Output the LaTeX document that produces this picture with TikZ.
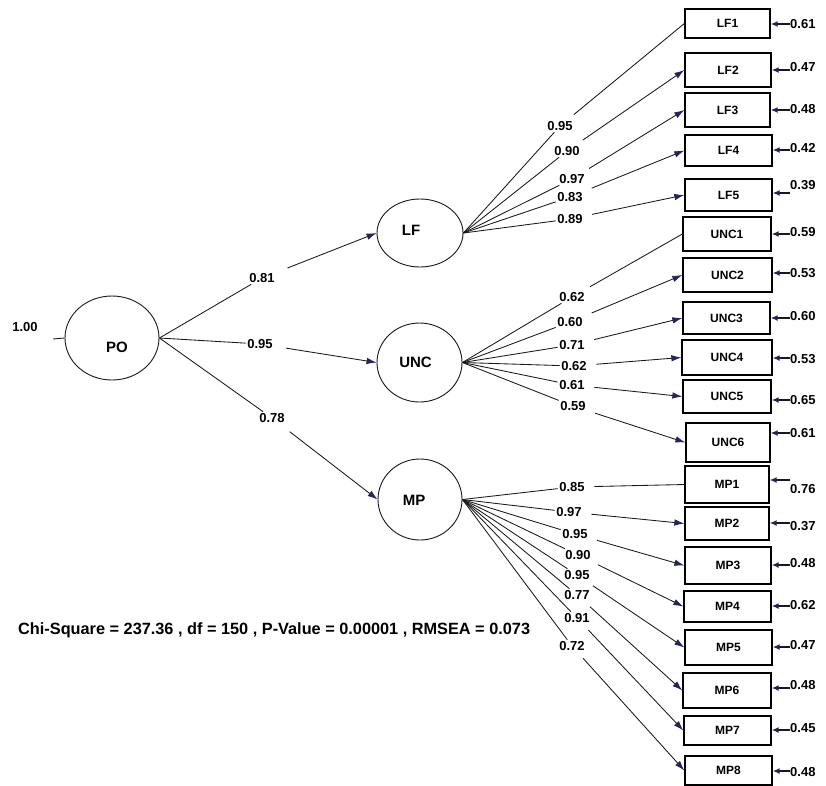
\documentclass[tikz,border=0pt]{standalone}
\usepackage{fontspec}
\setmainfont{Liberation Sans}
\usetikzlibrary{arrows.meta,shapes.geometric}
\definecolor{tipc}{RGB}{35,35,95}
\definecolor{linec}{RGB}{25,25,25}
\tikzset{
  lat/.style={ellipse, draw=linec, line width=0.9pt, inner sep=0pt},
  lattext/.style={font=\fontsize{15}{15}\selectfont\bfseries, inner sep=0pt},
  ibox/.style={rectangle, draw=black, line width=1.3pt, inner sep=0pt, fill=white,
    font=\fontsize{12}{12}\selectfont\bfseries},
  lbl/.style={inner sep=1.5pt, font=\fontsize{13}{13}\selectfont\bfseries},
  ln/.style={draw=linec, line width=0.85pt},
  arr/.style={ln, -{Latex[length=10pt,width=6.5pt,color=tipc]}},
  errarr/.style={draw=linec, line width=1.6pt, -{Latex[length=7pt,width=6pt,color=tipc]}},
}
\newcommand\IB[6]{\node[ibox, minimum width=#4, minimum height=#5] (#1) at (#2,#3) {#6};}
\newcommand\ER[4]{\coordinate (#1t) at (790,#2);
  \draw[errarr] (#1t) -- (#1.east |- #1t);
  \node[lbl, anchor=west, inner sep=1pt] (#1e) at (789,#3) {#4};}
\newcommand\LD[6]{\node[lbl] (#2l) at (#3,#4) {#5};
  \draw[ln] (#1.east) -- (#2l);
  \draw[#6, shorten <=8pt] (#2l) -- (#2.west);}
\begin{document}
\begin{tikzpicture}[x=1pt,y=-1pt]
\fill[white] (0,0) rectangle (826,785);
\useasboundingbox (0,0) rectangle (826,785);

% latent variables
\node[lat, minimum width=94, minimum height=84,
  label={[lattext,xshift=5pt,yshift=-9pt]center:PO}] (PO) at (112,338) {};
\node[lat, minimum width=86, minimum height=68,
  label={[lattext,xshift=-9pt,yshift=3pt]center:LF}] (LF) at (420,233) {};
\node[lat, minimum width=85, minimum height=79,
  label={[lattext,xshift=-4pt]center:UNC}] (UNC) at (419.5,362.5) {};
\node[lat, minimum width=84, minimum height=81,
  label={[lattext,xshift=-6pt,yshift=-1pt]center:MP}] (MP) at (420,499.5) {};

% PO variance
\node[lbl] (pov) at (25,327) {1.00};
\coordinate (pot) at (53,339);
\draw[ln] (pot) -- (PO.west);

% PO paths
\node[lbl] (p1) at (262,278) {0.81};
\node[lbl] (p2) at (260,344) {0.95};
\node[lbl] (p3) at (272,418) {0.78};
\draw[ln] (PO.east) -- (p1);
\draw[arr, shorten <=12pt] (p1) -- (LF.west);
\draw[ln] (PO.east) -- (p2);
\draw[arr, shorten <=12pt] (p2) -- (UNC.west);
\draw[ln] (PO.east) -- (p3);
\draw[arr, shorten <=12pt] (p3) -- (MP.west);

% indicator boxes
\IB{LF1}{727.5}{23.5}{85}{29}{LF1}
\IB{LF2}{728}{70}{86}{34}{LF2}
\IB{LF3}{727.5}{110}{85}{34}{LF3}
\IB{LF4}{728.5}{150.5}{87}{31}{LF4}
\IB{LF5}{728.5}{195}{87}{32}{LF5}
\IB{UNC1}{727}{234}{88}{34}{UNC1}
\IB{UNC2}{727.5}{275}{89}{34}{UNC2}
\IB{UNC3}{726.5}{318}{87}{32}{UNC3}
\IB{UNC4}{727}{357.5}{90}{35}{UNC4}
\IB{UNC5}{727}{396.5}{88}{33}{UNC5}
\IB{UNC6}{728}{442.5}{84}{39}{UNC6}
\IB{MP1}{727}{484.5}{84}{37}{MP1}
\IB{MP2}{727}{523.5}{84}{33}{MP2}
\IB{MP3}{728}{565.5}{86}{37}{MP3}
\IB{MP4}{727.5}{606.5}{87}{31}{MP4}
\IB{MP5}{728.5}{647.5}{87}{35}{MP5}
\IB{MP6}{727}{690.5}{88}{35}{MP6}
\IB{MP7}{727.5}{730.5}{87}{29}{MP7}
\IB{MP8}{728.5}{770.5}{87}{29}{MP8}

% loadings
\LD{LF}{LF1}{560}{126}{0.95}{ln}
\LD{LF}{LF2}{567}{151}{0.90}{arr}
\LD{LF}{LF3}{572}{179}{0.97}{arr}
\LD{LF}{LF4}{570}{197}{0.83}{arr}
\LD{LF}{LF5}{570}{219}{0.89}{arr}
\LD{UNC}{UNC1}{572}{297}{0.62}{ln}
\LD{UNC}{UNC2}{570}{322}{0.60}{arr}
\LD{UNC}{UNC3}{572}{345}{0.71}{arr}
\LD{UNC}{UNC4}{574}{366}{0.62}{arr}
\LD{UNC}{UNC5}{572}{385}{0.61}{arr}
\LD{UNC}{UNC6}{573}{406}{0.59}{arr}
\LD{MP}{MP1}{572}{487}{0.85}{ln}
\LD{MP}{MP2}{569}{512}{0.97}{arr}
\LD{MP}{MP3}{575}{534}{0.95}{arr}
\LD{MP}{MP4}{578}{555}{0.90}{arr}
\LD{MP}{MP5}{577}{575}{0.95}{arr}
\LD{MP}{MP6}{577}{595}{0.77}{arr}
\LD{MP}{MP7}{577}{618}{0.91}{arr}
\LD{MP}{MP8}{572}{646}{0.72}{arr}

% error variances
\ER{LF1}{24}{24}{0.61}
\ER{LF2}{70}{67}{0.47}
\ER{LF3}{110}{109}{0.48}
\ER{LF4}{150}{148}{0.42}
\ER{LF5}{193}{185}{0.39}
\ER{UNC1}{234}{232}{0.59}
\ER{UNC2}{273}{273}{0.53}
\ER{UNC3}{318}{316}{0.60}
\ER{UNC4}{358}{359}{0.53}
\ER{UNC5}{400}{400}{0.65}
\ER{UNC6}{433}{433}{0.61}
\ER{MP1}{480}{489}{0.76}
\ER{MP2}{523}{526}{0.37}
\ER{MP3}{565}{563}{0.48}
\ER{MP4}{606}{605}{0.62}
\ER{MP5}{647}{645}{0.47}
\ER{MP6}{688}{685}{0.48}
\ER{MP7}{730}{728}{0.45}
\ER{MP8}{771}{772}{0.48}

% fit statistics
\node[anchor=west, inner sep=0pt, font=\fontsize{16.3}{16.3}\selectfont\bfseries] (fit) at (18,630)
  {Chi-Square = 237.36 , df = 150 , P-Value = 0.00001 , RMSEA = 0.073};
\end{tikzpicture}
\end{document}
